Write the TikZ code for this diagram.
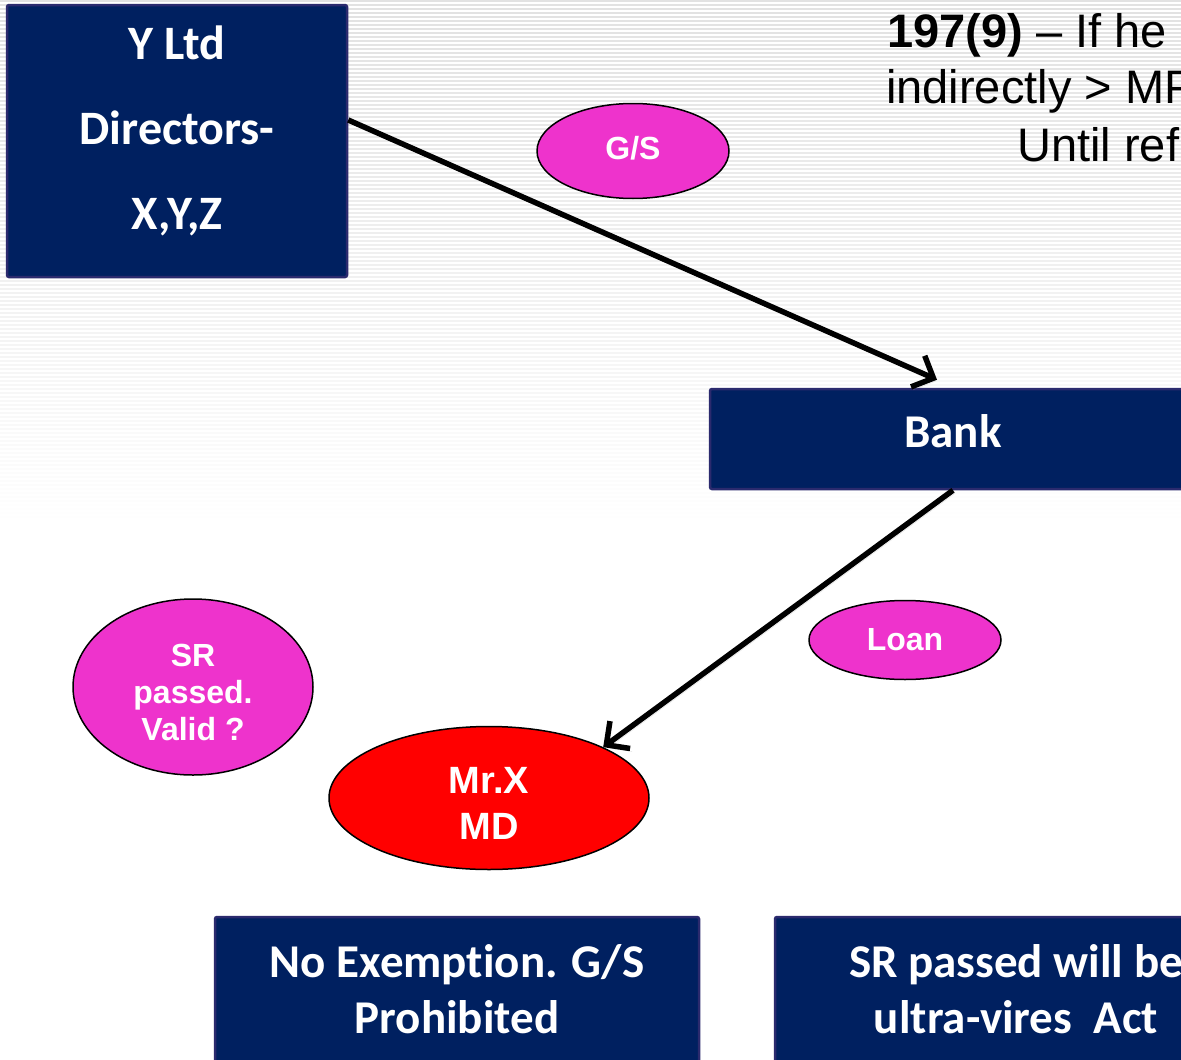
\documentclass[tikz,border=0pt]{standalone}
\usepackage{fontspec}
\setmainfont{Liberation Sans}
\newfontfamily\boxfont[RawFeature={-liga}]{Carlito}
\usetikzlibrary{arrows.meta,shapes.geometric}
\definecolor{navy}{HTML}{002060}
\definecolor{navyedge}{HTML}{2B2A6E}
\definecolor{pinkfill}{HTML}{EE33CC}
\definecolor{stripe}{HTML}{E2E2E2}

\begin{document}
\begin{tikzpicture}[x=1pt,y=-1pt,
  panel/.style={fill=navy, draw=navyedge, line width=2.5pt, rounded corners=2pt, inner sep=0pt},
  paneltext/.style={text=white, font=\boxfont\bfseries, align=center, inner sep=0pt},
  bubble/.style={ellipse, draw=black, line width=1.5pt, fill=pinkfill, inner sep=0pt},
  bubbletext/.style={text=white, align=center, inner sep=0pt},
  note/.style={anchor=base west, inner sep=0pt, font=\fontsize{47}{52}\selectfont},
  link/.style={line width=5.5pt, -{Straight Barb[length=17pt,width=34pt]},
    preaction={draw=black!35, opacity=0.35, transform canvas={shift={(2pt,-3pt)}}}}]

\useasboundingbox (0,0) rectangle (1181,1060);
\clip (0,0) rectangle (1181,1060);
\fill[white] (0,0) rectangle (1181,1060);

% faint horizontal rules fading out towards the middle of the page
\foreach \k in {0,...,130} {
  \pgfmathsetmacro\op{max(0,1-\k/130)}
  \draw[stripe, line width=1.6pt, opacity=\op] (0,\k*4+1) -- (1181,\k*4+1);
}

% company box
\node[panel, minimum width=340pt, minimum height=272pt] (ybox) at (177,141) {};
\node[paneltext, font=\boxfont\bfseries\fontsize{48}{85}\selectfont]
  at ([yshift=10pt]ybox.center) {Y Ltd\\Directors-\\X,Y,Z};

% bank box
\node[panel, minimum width=486pt, minimum height=100pt] (bank) at (953,439) {};
\node[paneltext, font=\boxfont\bfseries\fontsize{47}{50}\selectfont]
  at ([yshift=8pt]bank.center) {Bank};

% outcome boxes
\node[panel, minimum width=484pt, minimum height=200pt] (noex) at (457,1017) {};
\node[paneltext, font=\boxfont\bfseries\fontsize{47}{56}\selectfont]
  at ([yshift=28pt]noex.center) {No Exemption. G/S\\Prohibited};
\node[panel, minimum width=482pt, minimum height=200pt] (ultra) at (1016,1017) {};
\node[paneltext, font=\boxfont\bfseries\fontsize{47}{56}\selectfont]
  at ([yshift=28pt]ultra.center) {SR passed will be\\ultra-vires\ \ Act};

% bubbles
\node[bubble, minimum width=192pt, minimum height=95pt] (gs) at (633,151) {};
\node[bubbletext, font=\bfseries\fontsize{32}{36}\selectfont]
  at ([yshift=3pt]gs.center) {G/S};
\node[bubble, minimum width=192pt, minimum height=79pt] (loan) at (905,640) {};
\node[bubbletext, font=\bfseries\fontsize{32}{36}\selectfont]
  at (loan.center) {Loan};
\node[bubble, minimum width=240pt, minimum height=176pt] (sr) at (193,687) {};
\node[bubbletext, font=\bfseries\fontsize{32}{37}\selectfont]
  at ([yshift=-5pt]sr.center) {SR\\passed.\\Valid ?};
\node[bubble, fill=red, minimum width=320pt, minimum height=143pt] (mrx) at (489,798) {};
\node[bubbletext, font=\bfseries\fontsize{38}{46}\selectfont]
  at ([yshift=-5pt]mrx.center) {Mr.X\\MD};

% section note
\node[note] (n1) at (887,47) {\textbf{197(9)} -- If he};
\node[note] (n2) at (886,103) {indirectly > MP};
\node[note] (n3) at (1017,161) {Until ref};

% connectors
\draw[link] ([yshift=21pt]ybox.east) -- ([xshift=-16pt,yshift=8pt]bank.north);
\draw[link] (bank.south) -- (mrx.24);
\end{tikzpicture}
\end{document}
